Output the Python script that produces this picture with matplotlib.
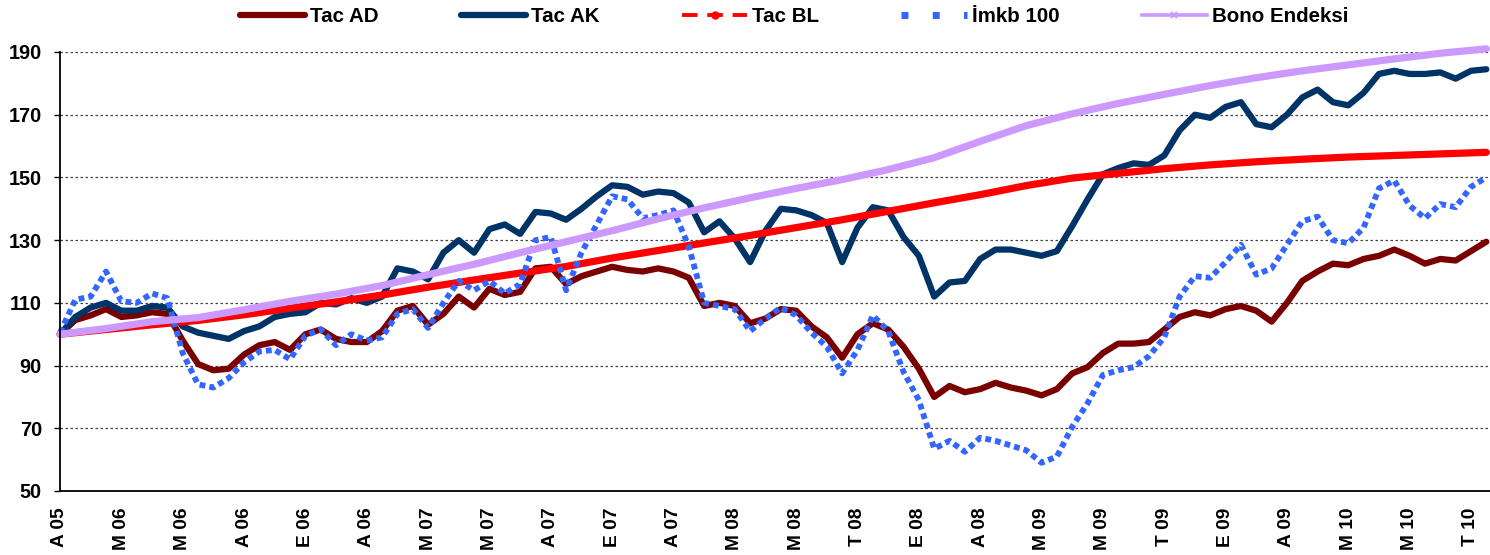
import numpy as np
import matplotlib
matplotlib.use("Agg")
import matplotlib.pyplot as plt
from matplotlib.lines import Line2D

plt.rcParams["font.family"] = ["Liberation Sans", "DejaVu Sans"]
plt.rcParams["font.weight"] = "bold"

# month labels (Turkish initials), one per tick
month_labels = [
    "A 05", "M 06", "M 06", "A 06", "E 06", "A 06", "M 07", "M 07",
    "A 07", "E 07", "A 07", "M 08", "M 08", "T 08", "E 08", "A 08",
    "M 09", "M 09", "T 09", "E 09", "A 09", "M 10", "M 10", "T 10",
]

# fund / index values, four readings per tick interval
tac_ad = [
    100, 104.5, 106, 108, 105.5, 106, 107, 106.5, 98, 90.5, 88.5, 89, 93.5, 96.5,
    97.5, 95, 100, 101.5, 98.5, 97.5, 97.5, 101, 107.5, 109, 103, 106.5, 112, 108.5,
    114.5, 112.5, 113.5, 121, 121.5, 116, 118.5, 120, 121.5, 120.5, 120, 121, 120, 118,
    109, 110, 109, 103.5, 105, 108, 107.5, 102.5, 99, 92.5, 100, 103.5, 101.5, 96,
    89, 80, 83.5, 81.5, 82.5, 84.5, 83, 82, 80.5, 82.5, 87.5, 89.5, 94, 97,
    97, 97.5, 101.5, 105.5, 107, 106, 108, 109, 107.5, 104, 110, 117, 120, 122.5,
    122, 124, 125, 127, 125, 122.5, 124, 123.5, 126.5, 129.5,
]
tac_ak = [
    100, 105.5, 108.5, 110, 107.5, 107.5, 109, 108.5, 102.5, 100.5, 99.5, 98.5, 101, 102.5,
    105.5, 106.5, 107, 110, 109.5, 111.5, 110, 112, 121, 120, 117.5, 126, 130, 126,
    133.5, 135, 132, 139, 138.5, 136.5, 140, 144, 147.5, 147, 144.5, 145.5, 145, 142,
    132.5, 136, 130.5, 123, 133, 140, 139.5, 138, 135.5, 123, 134, 140.5, 139.5, 131,
    125, 112, 116.5, 117, 124, 127, 127, 126, 125, 126.5, 134.5, 143, 151, 153,
    154.5, 154, 157, 165, 170, 169, 172.5, 174, 167, 166, 170, 175.5, 178, 174,
    173, 177, 183, 184, 183, 183, 183.5, 181.5, 184, 184.5,
]
imkb_100 = [
    100.5, 111, 112, 120, 110.5, 110, 113, 111.5, 94, 84, 83, 86, 91, 94.5,
    95, 92, 99.5, 101.5, 96.5, 100, 98, 99, 106.5, 108, 102, 110, 117, 114,
    117, 113, 116, 130, 131, 114, 126, 135, 144, 143, 137, 138, 139.5, 128,
    110, 109, 108, 101, 105, 108.5, 106, 100.5, 96, 87.5, 95, 106, 101, 88,
    79, 63.5, 66, 62.5, 67, 66, 64.5, 63, 59, 61, 70.5, 78, 87, 88.5,
    89.5, 93, 99, 112, 118.5, 118, 123, 128.5, 119, 121, 128.5, 136, 137.5, 130,
    129, 134, 146.5, 149, 141, 137, 141.5, 140.5, 147, 150,
]

# smoother series, one reading every three quarter-intervals
tac_bl = [
    100, 101.5, 103, 104.4, 106.2, 108.3, 110.3, 112.5, 115, 117.3, 119.5, 121.6,
    124.3, 126.7, 129.1, 131.5, 134, 136.5, 139.2, 141.9, 144.5, 147.4, 149.8, 151.3,
    152.8, 154, 155, 155.8, 156.5, 157, 157.5, 158,
]
bono_endeksi = [
    100, 101.8, 104, 105.3, 107.8, 110.5, 112.8, 115.5, 119, 122.3, 126, 129.5,
    133, 136.8, 140.3, 143.5, 146.5, 149.3, 152.5, 156.3, 161.5, 166.5, 170.3, 173.6,
    176.5, 179.3, 181.8, 184, 185.9, 187.8, 189.6, 191,
]

C_AD = "#7a0000"
C_AK = "#003366"
C_BL = "#ff0000"
C_IMKB = "#3366ff"
C_BONO = "#cc99ff"

x_daily = np.arange(len(tac_ad)) * 0.25
x_slow = np.arange(len(tac_bl)) * 0.75

fig = plt.figure(figsize=(14.9, 5.55), dpi=100)
ax = fig.add_axes([60 / 1490, 1 - 491 / 555, 1430 / 1490, 439 / 555])

common = dict(solid_joinstyle="round", solid_capstyle="round", clip_on=False)
ax.plot(x_daily, tac_ad, color=C_AD, lw=4.5, **common)
ax.plot(x_daily, tac_ak, color=C_AK, lw=4.5, **common)
ax.plot(x_slow, tac_bl, color=C_BL, lw=5.2, **common)
ax.plot(x_daily, imkb_100, color=C_IMKB, lw=4.2, ls=(0, (1.0, 0.7)),
        dash_capstyle="butt", clip_on=False)
ax.plot(x_slow, bono_endeksi, color=C_BONO, lw=5.2, **common)

ax.set_xlim(0, 23.31)
ax.set_ylim(50, 190)
ax.set_yticks(np.arange(50, 191, 20))
ax.set_xticks(np.arange(len(month_labels)))
ax.set_xticklabels(month_labels, rotation=90)

ax.yaxis.grid(True, color="#444444", lw=0.9, ls=(0, (2, 2)))
ax.set_axisbelow(True)

for side in ("top", "right"):
    ax.spines[side].set_visible(False)
for side in ("left", "bottom"):
    ax.spines[side].set_color("black")
    ax.spines[side].set_linewidth(1.3)

ax.tick_params(axis="y", direction="out", length=4, width=1.0, pad=9,
               labelsize=14.3)
ax.tick_params(axis="x", length=0, pad=12, labelsize=13.8)

handles = [
    Line2D([], [], color=C_AD, lw=4.5, solid_capstyle="round"),
    Line2D([], [], color=C_AK, lw=4.5, solid_capstyle="round"),
    Line2D([], [], color=C_BL, lw=2.8, ls=(0, (4, 2.5)), marker="o", ms=5),
    Line2D([], [], color=C_IMKB, lw=5, ls=(0, (1, 3.5)), dash_capstyle="butt"),
    Line2D([], [], color=C_BONO, lw=2.6, marker="x", ms=5, mew=1.5),
]
labels = ["Tac AD", "Tac AK", "Tac BL", "İmkb 100", "Bono Endeksi"]
fig.legend(handles, labels, loc="center", bbox_to_anchor=(0.533, 1 - 17 / 555),
           ncol=5, frameon=False, fontsize=14.8, handlelength=3.17,
           handletextpad=0.25, columnspacing=4.0, numpoints=1)

fig.savefig("out.png", dpi=100)
